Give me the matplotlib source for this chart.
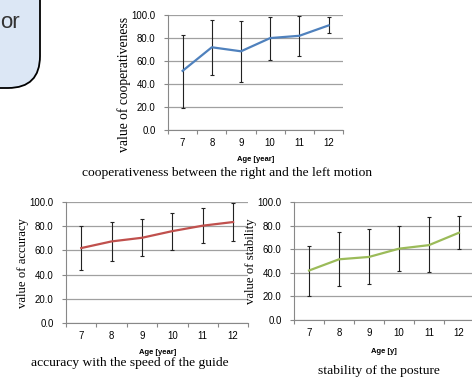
import matplotlib
matplotlib.use("Agg")
import matplotlib.pyplot as plt
from matplotlib.patches import FancyBboxPatch
from matplotlib.ticker import FixedLocator

# ages on the x axis
ages = [7, 8, 9, 10, 11, 12]
age_labels = ['7', '8', '9', '10', '11', '12']

# cooperativeness between the right and the left motion
coop_mean = [51.5, 72, 68.5, 80, 82, 91]
coop_low = [19, 48, 42, 61, 64, 84]
coop_high = [83, 96, 95, 98, 99, 98]

# accuracy with the speed of the guide
acc_mean = [62, 67.5, 70.5, 76, 80.5, 83.5]
acc_low = [44, 51.5, 55.5, 60.5, 66, 68]
acc_high = [80, 83.5, 86, 91, 95, 99]

# stability of the posture
stab_mean = [42, 51.5, 53.5, 60.5, 63.5, 74]
stab_low = [20.5, 29, 30.5, 42, 40.5, 60]
stab_high = [62.5, 75, 77, 79.5, 87, 88]

yticks = [0, 20, 40, 60, 80, 100]

plt.rcParams['font.family'] = ['Liberation Sans', 'DejaVu Sans']
serif = ['Liberation Serif', 'DejaVu Serif']

fig = plt.figure(figsize=(4.72, 3.77), dpi=100, facecolor='white')


def panel(rect, mean, low, high, color, ylabel, ylab_size, ylab_pos, xlabel,
          caption, xlab_y, cap_x, cap_y):
    ax = fig.add_axes(rect)
    yerr = [[m - lo for m, lo in zip(mean, low)],
            [hi - m for m, hi in zip(mean, high)]]
    ax.errorbar(ages, mean, yerr=yerr, fmt='none', ecolor='#222222',
                elinewidth=0.8, capsize=1.6, capthick=0.8, zorder=3)
    ax.plot(ages, mean, color=color, lw=1.6, zorder=4)
    ax.set_xlim(6.5, 12.5)
    ax.set_ylim(0, 100)
    ax.set_yticks(yticks)
    ax.set_yticklabels([f"{v:.1f}" for v in yticks], fontsize=6.9)
    ax.set_xticks(ages)
    ax.set_xticklabels(age_labels, fontsize=6.9)
    ax.xaxis.set_minor_locator(FixedLocator([a - 0.5 for a in ages] + [12.5]))
    ax.tick_params(axis='x', which='major', length=0, pad=6)
    ax.tick_params(axis='x', which='minor', length=3, color='#888888', width=0.8)
    ax.tick_params(axis='y', length=3, color='#888888', width=0.8, pad=6)
    ax.yaxis.grid(True, color='#a0a0a0', lw=0.9)
    ax.set_axisbelow(True)
    for s in ('top', 'right'):
        ax.spines[s].set_visible(False)
    for s in ('left', 'bottom'):
        ax.spines[s].set_color('#888888')
        ax.spines[s].set_linewidth(0.8)
    ax.set_ylabel(ylabel, family=serif, fontsize=ylab_size, labelpad=0.5,
                  y=ylab_pos)
    ax.text(0.5, xlab_y, xlabel, transform=ax.transAxes, ha='center',
            va='center', fontsize=5.5, fontweight='bold')
    ax.text(cap_x, cap_y, caption, transform=ax.transAxes, ha='center',
            va='center', family=serif, fontsize=9.7)
    return ax


panel([0.356, 0.655, 0.371, 0.305], coop_mean, coop_low, coop_high,
      '#4f81bd', 'value of cooperativeness', 9.8, 0.40, 'Age [year]',
      'cooperativeness between the right and the left motion',
      -0.26, 0.337, -0.37)
panel([0.140, 0.143, 0.386, 0.321], acc_mean, acc_low, acc_high,
      '#c0504d', 'value of accuracy', 9.2, 0.5, 'Age [year]',
      'accuracy with the speed of the guide', -0.24, 0.35, -0.33)
panel([0.623, 0.151, 0.381, 0.313], stab_mean, stab_low, stab_high,
      '#9bbb59', 'value of stability', 9.2, 0.5, 'Age [y]',
      'stability of the posture', -0.27, 0.47, -0.43)

# cropped rounded box in the top-left corner
box = FancyBboxPatch((-1.0, 2.89), 1.40, 2.0,
                     boxstyle="round,pad=0,rounding_size=0.32",
                     transform=fig.dpi_scale_trans, facecolor='#dce7f5',
                     edgecolor='black', lw=1.3, clip_on=False)
fig.patches.append(box)
fig.text(0.20 / 4.72, 1 - 28 / 377, 'or', ha='right', va='baseline',
         fontsize=16, color='#333333')

fig.savefig('out.png', dpi=100, facecolor='white')
